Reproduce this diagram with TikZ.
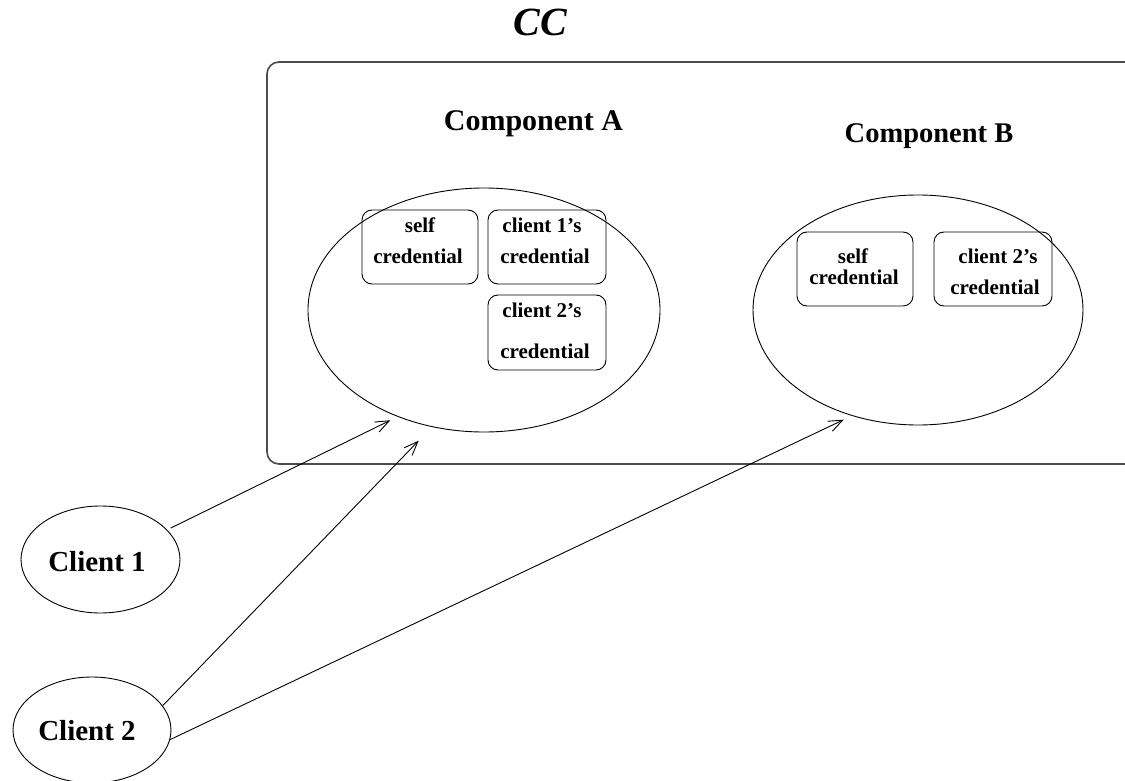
\documentclass[tikz,border=0pt]{standalone}
\usepackage{fontspec}
\setmainfont{Liberation Serif}
\usetikzlibrary{arrows.meta,shapes.geometric}
\begin{document}
\begin{tikzpicture}[x=1pt,y=-1pt,
  comp/.style={draw, ellipse, line width=0.9pt, inner sep=0pt},
  cred/.style={draw, rounded corners=10pt, line width=0.9pt, inner sep=0pt},
  lbl/.style={font=\fontsize{29.5}{31}\selectfont\bfseries, anchor=base, inner sep=0pt},
  ctext/.style={font=\fontsize{21}{23}\selectfont\bfseries, anchor=base, inner sep=0pt},
  conn/.style={line width=0.9pt, -{Straight Barb[length=14pt,width=11pt,line width=0.9pt]}}]
\useasboundingbox (0,0) rectangle (1125,781);
\clip (0,0) rectangle (1125,781);

% container
\node[draw=black!70, line width=1.6pt, rounded corners=12pt, minimum width=883pt, minimum height=402pt, inner sep=0pt] (ccbox) at (708.5,263) {};
\node[font=\fontsize{40}{42}\selectfont\bfseries\itshape, anchor=base, inner sep=0pt] (cc) at (540,36) {CC};

% components
\node[comp, minimum width=352pt, minimum height=244pt] (A) at (484,310) {};
\node[comp, minimum width=330pt, minimum height=230pt] (B) at (918,310) {};
\node[lbl, font=\fontsize{30}{32}\selectfont\bfseries] (Alab) at (533.5,131) {Component A};
\node[lbl, font=\fontsize{28.5}{30}\selectfont\bfseries] (Blab) at (929,143) {Component B};

% credential boxes in A
\node[cred, minimum width=116pt, minimum height=74pt] (Aself) at (420,247) {};
\node[ctext] (Aself1) at (420,232) {self};
\node[ctext] (Aself2) at (418,263) {credential};
\node[cred, minimum width=118pt, minimum height=74pt] (Ac1) at (547,247) {};
\node[ctext] (Ac11) at (542,233) {client 1's};
\node[ctext] (Ac12) at (545,263) {credential};
\node[cred, minimum width=118pt, minimum height=75pt] (Ac2) at (547,332.5) {};
\node[ctext] (Ac21) at (542,317) {client 2's};
\node[ctext] (Ac22) at (545,358) {credential};

% credential boxes in B
\node[cred, minimum width=116pt, minimum height=74pt] (Bself) at (855,269) {};
\node[ctext] (Bself1) at (853,263) {self};
\node[ctext] (Bself2) at (854,284) {credential};
\node[cred, minimum width=118pt, minimum height=74pt] (Bc2) at (993,269) {};
\node[ctext] (Bc21) at (998,263) {client 2's};
\node[ctext] (Bc22) at (995,294) {credential};

% clients
\node[comp, minimum width=159pt, minimum height=107pt] (C1) at (100.5,559.5) {};
\node[lbl, font=\fontsize{29}{31}\selectfont\bfseries] (C1lab) at (97,571) {Client 1};
\node[comp, minimum width=158pt, minimum height=106pt] (C2) at (92,730) {};
\node[lbl, font=\fontsize{29}{31}\selectfont\bfseries] (C2lab) at (87,740) {Client 2};

% connectors
\draw[conn, shorten <=4pt, shorten >=8pt] (C1.24) -- (A.231);
\draw[conn, shorten >=19pt] (C2.19) -- (A.246);
\draw[conn, shorten >=9pt] (C2.-7) -- (B.238);
\end{tikzpicture}
\end{document}
